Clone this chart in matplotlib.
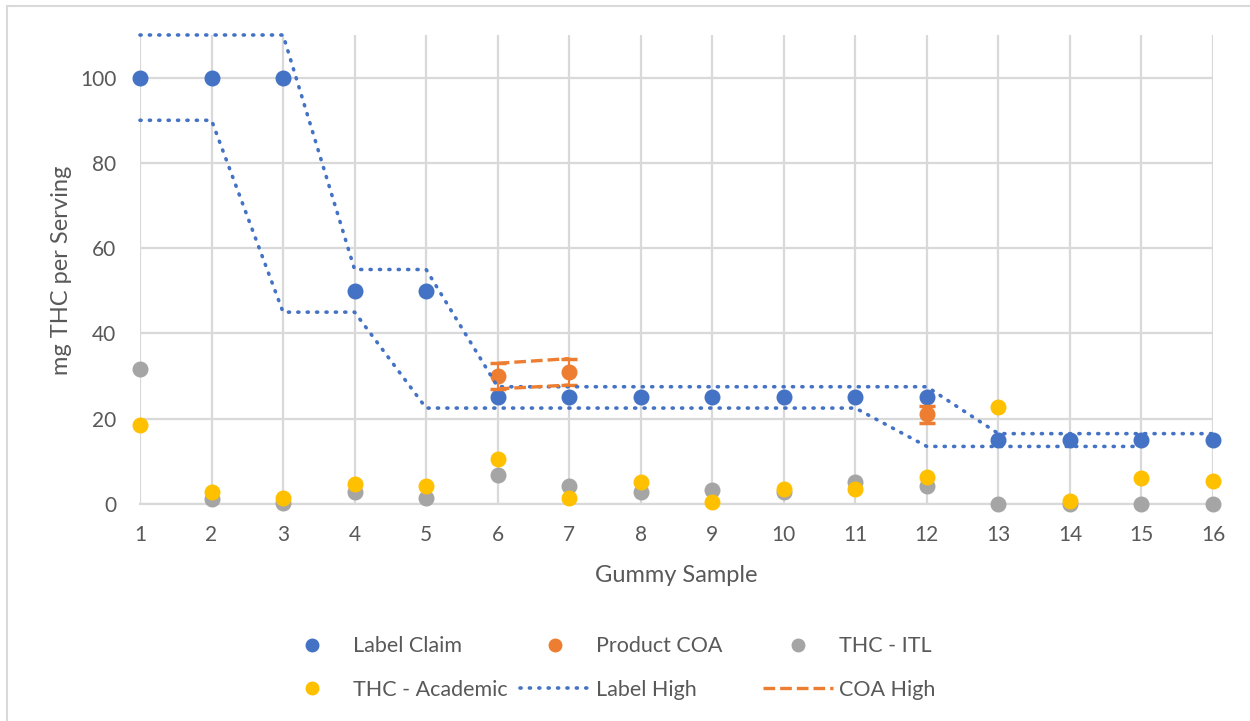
import matplotlib
matplotlib.use("Agg")
from matplotlib import pyplot as plt
from matplotlib.lines import Line2D
from matplotlib.patches import Rectangle

plt.rcParams["font.family"] = ["Lato", "DejaVu Sans"]

# data
samples = list(range(1, 17))
label_claim = [100, 100, 100, 50, 50, 25, 25, 25, 25, 25, 25, 25, 15, 15, 15, 15]
coa_samples = [6, 7, 12]
product_coa = [30, 31, 21]
thc_itl = [31.7, 1.2, 0.2, 2.9, 1.3, 6.8, 4.2, 2.7, 3.4, 2.9, 5.2, 4.2, 0, 0, 0, 0]
thc_academic = [18.6, 2.9, 1.5, 4.8, 4.3, 10.6, 1.3, 5.2, 0.4, 3.5, 3.5, 6.4, 22.8, 0.7, 6.2, 5.4]
label_high = [110, 110, 110, 55, 55, 27.5, 27.5, 27.5, 27.5, 27.5, 27.5, 27.5, 16.5, 16.5, 16.5, 16.5]
low_samples = list(range(1, 16))
label_low = [90, 90, 45, 45, 22.5, 22.5, 22.5, 22.5, 22.5, 22.5, 22.5, 13.5, 13.5, 13.5, 13.5]
coa_line_samples = [6, 7]
coa_high = [33, 34.1]
coa_low = [27, 27.9]

blue = "#4472C4"
orange = "#ED7D31"
gray = "#A5A5A5"
yellow = "#FFC000"
text_col = "#595959"
grid_col = "#D9D9D9"
dotted = (0, (0.3, 2.3))
dashed = (0, (3.5, 1.5))

fig = plt.figure(figsize=(12.5, 7.21), dpi=100)
W, H = 1250, 721
ax = fig.add_axes([140 / W, 1 - 504 / H, (1213 - 140) / W, (504 - 35) / H])

# chart border (only top and left visible in the crop)
fig.patches.append(Rectangle((7 / W, -0.1), 1.2, 1 - 6 / H + 0.1, transform=fig.transFigure,
                             fill=False, edgecolor=grid_col, linewidth=1.5))

ax.plot(samples, label_high, color=blue, linestyle=dotted, dash_capstyle="round",
        linewidth=2.6, zorder=4, clip_on=False)
ax.plot(low_samples, label_low, color=blue, linestyle=dotted, dash_capstyle="round",
        linewidth=2.6, zorder=4, clip_on=False)
ax.plot(coa_line_samples, coa_high, color=orange, linestyle=dashed, linewidth=2.4, zorder=4)
ax.plot(coa_line_samples, coa_low, color=orange, linestyle=dashed, linewidth=2.4, zorder=4)

ax.plot(samples, label_claim, "o", color=blue, markersize=10.5, zorder=3, clip_on=False)
coa_err = [v * 0.1 for v in product_coa]
ax.errorbar(coa_samples, product_coa, yerr=coa_err, fmt="o", color=orange, markersize=10.5,
            ecolor=orange, elinewidth=1.5, capsize=6, capthick=2.5, zorder=3)
ax.plot(samples, thc_itl, "o", color=gray, markersize=10.5, zorder=3, clip_on=False)
ax.plot(samples, thc_academic, "o", color=yellow, markersize=10.5, zorder=3, clip_on=False)

ax.set_xlim(1, 16)
ax.set_ylim(0, 110)
ax.set_xticks(samples)
ax.set_yticks([0, 20, 40, 60, 80, 100])
ax.grid(True, color=grid_col, linewidth=1.6, zorder=0)
ax.set_axisbelow(True)
for s in ["top", "right", "left"]:
    ax.spines[s].set_visible(False)
ax.spines["bottom"].set_color(grid_col)
ax.spines["bottom"].set_linewidth(1.6)
ax.tick_params(length=0, labelsize=15, colors=text_col)
ax.tick_params(axis="x", pad=15)
ax.tick_params(axis="y", pad=17)

ax.set_xlabel("Gummy Sample", fontsize=17, color=text_col)
ax.xaxis.label.set_va("center")
ax.xaxis.set_label_coords((676 - 140) / 1073, (504 - 575) / 469)
ax.set_ylabel("mg THC per Serving", fontsize=17, color=text_col)
ax.yaxis.label.set_va("center")
ax.yaxis.set_label_coords((62 - 140) / 1073, (504 - 270) / 469)

# legend, three columns placed like the original
mk = dict(marker="o", linestyle="None", markersize=9)
columns = [
    (277, [Line2D([], [], color=blue, **mk), Line2D([], [], color=yellow, **mk)],
     ["Label Claim", "THC - Academic"]),
    (520, [Line2D([], [], color=orange, **mk),
           Line2D([], [], color=blue, linestyle=dotted, dash_capstyle="round", linewidth=2.6)],
     ["Product COA", "Label High"]),
    (763, [Line2D([], [], color=gray, **mk),
           Line2D([], [], color=orange, linestyle=dashed, linewidth=2.4)],
     ["THC - ITL", "COA High"]),
]
for x0, handles, labels in columns:
    leg = fig.legend(handles, labels, loc="center left", bbox_to_anchor=(x0 / W, 1 - 668 / H),
                     frameon=False, fontsize=15.5, handlelength=3.25, handletextpad=0.3,
                     borderpad=0, borderaxespad=0, labelspacing=1.1, labelcolor=text_col)

fig.savefig("out.png", dpi=100)
